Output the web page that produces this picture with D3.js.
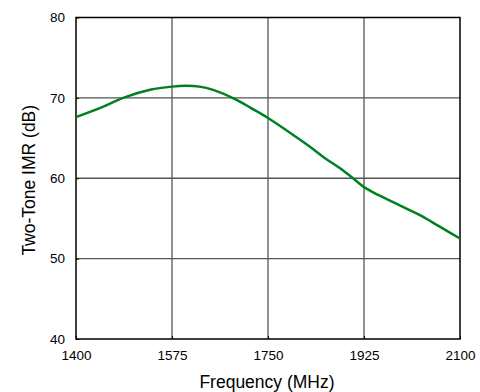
<!DOCTYPE html>
<html>
<head>
<meta charset="utf-8">
<script src="https://cdn.jsdelivr.net/npm/d3@7"></script>
<style>
  body { margin: 0; background: #fff; }
  text { font-family: "Liberation Sans", Arial, sans-serif; fill: #000; }
</style>
</head>
<body>
<div id="chart"></div>
<script>
// data
var freqs = [1400, 1450, 1486, 1535, 1575, 1600, 1625, 1650, 1690, 1720, 1750, 1800, 1827, 1854, 1880, 1905, 1925, 1950, 1991, 2027, 2060, 2100];
var imr   = [67.6, 68.9, 70.0, 71.0, 71.4, 71.5, 71.4, 71.0, 69.85, 68.7, 67.5, 65.2, 63.9, 62.5, 61.3, 60.0, 58.9, 57.95, 56.6, 55.4, 54.1, 52.5];
var xTicks = [1400, 1575, 1750, 1925, 2100];
var yTicks = [40, 50, 60, 70, 80];

var margin = {top: 17.5, right: 20, bottom: 53, left: 76},
    width = 480 - margin.left - margin.right,
    height = 392 - margin.top - margin.bottom;

var svg = d3.select("#chart")
  .append("svg")
    .attr("width", 480)
    .attr("height", 392);

var g = svg.append("g")
  .attr("transform", "translate(" + margin.left + "," + margin.top + ")");

var x = d3.scaleLinear().domain([1400, 2100]).range([0, width]);
var y = d3.scaleLinear().domain([40, 80]).range([height, 0]);

// grid
g.append("g")
  .selectAll("line")
  .data(xTicks.slice(1, -1))
  .enter().append("line")
    .attr("x1", function(d) { return x(d); })
    .attr("x2", function(d) { return x(d); })
    .attr("y1", 0)
    .attr("y2", height)
    .attr("stroke", "#555")
    .attr("stroke-width", 1.3);

g.append("g")
  .selectAll("line")
  .data(yTicks.slice(1, -1))
  .enter().append("line")
    .attr("x1", 0)
    .attr("x2", width)
    .attr("y1", function(d) { return y(d); })
    .attr("y2", function(d) { return y(d); })
    .attr("stroke", "#555")
    .attr("stroke-width", 1.3);

// axes with small inward ticks
var xAxis = d3.axisBottom(x).tickValues(xTicks).tickFormat(d3.format("d")).tickSize(-3).tickPadding(11);
var yAxis = d3.axisLeft(y).tickValues(yTicks).tickFormat(d3.format("d")).tickSize(-3).tickPadding(11);

var gx = g.append("g")
  .attr("transform", "translate(0," + height + ")")
  .call(xAxis);
gx.select(".domain").remove();
gx.selectAll("line").attr("stroke", "#000");
gx.selectAll("text").attr("font-size", 13.5).style("font-family", "Liberation Sans, Arial, sans-serif");

var gy = g.append("g").call(yAxis);
gy.select(".domain").remove();
gy.selectAll("line").attr("stroke", "#000");
gy.selectAll("text").attr("font-size", 13.5).style("font-family", "Liberation Sans, Arial, sans-serif");

// frame
g.append("rect")
  .attr("width", width)
  .attr("height", height)
  .attr("fill", "none")
  .attr("stroke", "#000")
  .attr("stroke-width", 1.5);

// curve
var line = d3.line()
  .curve(d3.curveCatmullRom.alpha(0.5))
  .x(function(d, i) { return x(freqs[i]); })
  .y(function(d) { return y(d); });

g.append("path")
  .datum(imr)
  .attr("fill", "none")
  .attr("stroke", "#008020")
  .attr("stroke-width", 2.5)
  .attr("d", line);

// axis labels
svg.append("text")
  .attr("x", margin.left + width / 2 - 1)
  .attr("y", 388)
  .attr("text-anchor", "middle")
  .attr("font-size", 17.5)
  .text("Frequency (MHz)");

svg.append("text")
  .attr("transform", "translate(35," + (margin.top + height / 2 + 2) + ") rotate(-90)")
  .attr("text-anchor", "middle")
  .attr("font-size", 17.5)
  .text("Two-Tone IMR (dB)");
</script>
</body>
</html>
